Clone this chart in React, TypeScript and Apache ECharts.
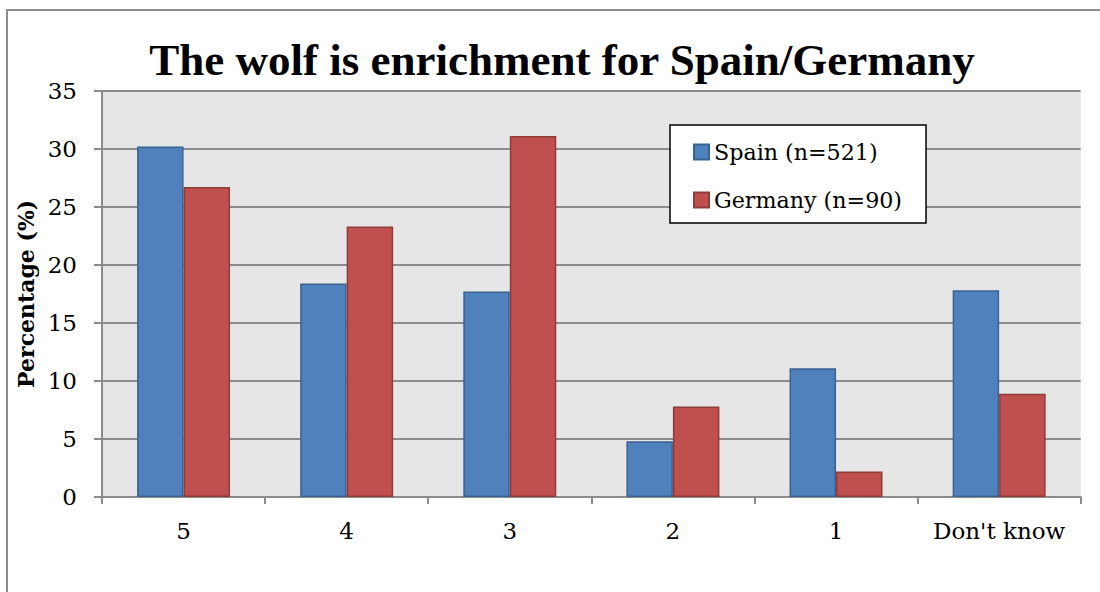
import React, { useEffect, useRef } from "react";
import * as echarts from "echarts";

const categories = ["5", "4", "3", "2", "1", "Don't know"];
const spain = [30.2, 18.4, 17.7, 4.8, 11.1, 17.8];
const germany = [26.7, 23.3, 31.1, 7.8, 2.2, 8.9];
const seriesNames = ["Spain (n=521)", "Germany (n=90)"];
const titleText = "The wolf is enrichment for Spain/Germany";
const yAxisName = "Percentage (%)";

const FONT = "'DejaVu Serif', 'Liberation Serif', serif";
const TITLE_FONT = "'Liberation Serif', 'DejaVu Serif', serif";

export default function App() {
  const ref = useRef<HTMLDivElement>(null);
  useEffect(() => {
    if (!ref.current) return;
    const chart = echarts.init(ref.current, null, { renderer: "svg" });
    chart.setOption({
      animation: false,
      backgroundColor: "#ffffff",
      textStyle: { fontFamily: FONT },
      title: {
        text: titleText,
        left: 557,
        textAlign: "center",
        top: 32,
        textStyle: { fontFamily: TITLE_FONT, fontSize: 45, fontWeight: "bold", color: "#000" },
      },
      graphic: [
        {
          type: "rect",
          shape: { x: 7, y: 10, width: 1110, height: 600 },
          style: { fill: "none", stroke: "#8c8c8c", lineWidth: 2 },
          silent: true,
          z: -1,
        },
      ],
      legend: {
        orient: "vertical",
        left: 670,
        top: 125,
        backgroundColor: "#ffffff",
        borderColor: "#000000",
        borderWidth: 1.5,
        padding: [14, 24, 10, 23],
        itemGap: 22,
        itemWidth: 15,
        itemHeight: 15,
        icon: "rect",
        textStyle: { fontFamily: FONT, fontSize: 22.2, color: "#000", lineHeight: 26 },
        data: seriesNames,
      },
      grid: {
        left: 102,
        top: 90.7,
        right: 19.3,
        bottom: 95,
        show: true,
        backgroundColor: "#e6e6e6",
        borderWidth: 0,
      },
      xAxis: {
        type: "category",
        data: categories,
        axisLine: { lineStyle: { color: "#8c8c8c", width: 2 } },
        axisTick: { show: true, length: 7, lineStyle: { color: "#8c8c8c", width: 2 } },
        axisLabel: { fontFamily: FONT, fontSize: 23, color: "#000", margin: 22, interval: 0 },
      },
      yAxis: {
        type: "value",
        min: 0,
        max: 35,
        interval: 5,
        name: yAxisName,
        nameLocation: "middle",
        nameGap: 63,
        nameTextStyle: { fontFamily: FONT, fontSize: 22, fontWeight: "bold", color: "#000" },
        axisLine: { show: true, lineStyle: { color: "#8c8c8c", width: 2 } },
        axisTick: { show: true, length: 8, lineStyle: { color: "#8c8c8c", width: 2 } },
        splitLine: { show: true, lineStyle: { color: "#8c8c8c", width: 2 } },
        axisLabel: { fontFamily: FONT, fontSize: 23, color: "#000", margin: 25 },
      },
      series: [
        {
          name: seriesNames[0],
          type: "bar",
          data: spain,
          barGap: "0%",
          barCategoryGap: "43%",
          itemStyle: { color: "#4f81bd", borderColor: "#3a6291", borderWidth: 1.5 },
        },
        {
          name: seriesNames[1],
          type: "bar",
          data: germany,
          itemStyle: { color: "#c0504d", borderColor: "#8f3b39", borderWidth: 1.5 },
        },
      ],
    });
    return () => chart.dispose();
  }, []);
  return (
    <div
      ref={ref}
      style={{ position: "fixed", left: 0, top: 0, width: 1100, height: 592 }}
    />
  );
}
